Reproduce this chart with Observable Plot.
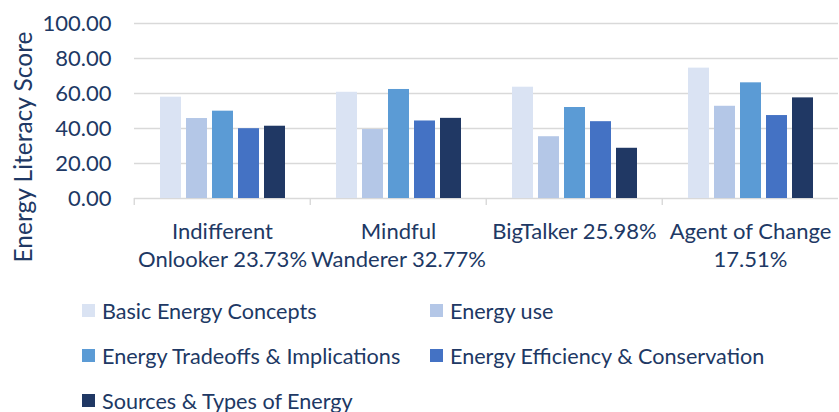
<!DOCTYPE html>
<html>
<head>
<meta charset="utf-8">
<script src="https://cdn.jsdelivr.net/npm/d3@7"></script>
<script src="https://cdn.jsdelivr.net/npm/@observablehq/plot@0.6"></script>
<style>
  html, body { margin: 0; padding: 0; background: #fff; overflow: hidden; }
  #legend { font-family: Lato, sans-serif; font-size: 21.6px; color: #203864; padding-left: 82px; margin-top: 3px; }
  .row { display: flex; height: 45px; align-items: center; }
  .item { display: flex; align-items: center; width: 348px; white-space: nowrap; }
  .sw { width: 13px; height: 13px; margin-right: 7px; flex: none; }
</style>
</head>
<body>
<div id="chart"></div>
<div id="legend"></div>
<script>
const groups = ["Indifferent\nOnlooker 23.73%", "Mindful\nWanderer 32.77%", "BigTalker 25.98%", "Agent of Change\n17.51%"];
const series = ["Basic Energy Concepts", "Energy use", "Energy Tradeoffs & Implications", "Energy Efficiency & Conservation", "Sources & Types of Energy"];
const colors = ["#DAE3F3", "#B4C7E7", "#5B9BD5", "#4472C4", "#203864"];
const basicConcepts = [57.9, 60.7, 63.6, 74.5];
const energyUse = [45.7, 39.4, 35.3, 52.7];
const tradeoffs = [49.9, 62.3, 52.0, 66.1];
const efficiency = [39.9, 44.3, 43.9, 47.4];
const sources = [41.3, 45.8, 28.7, 57.5];
const yTicks = [0, 20, 40, 60, 80, 100];
const yTitle = "Energy Literacy Score";

const seriesValues = [basicConcepts, energyUse, tradeoffs, efficiency, sources];
const data = [];
groups.forEach((g, i) => series.forEach((s, j) => data.push({group: g, series: s, value: seriesValues[j][i]})));

const textColor = "#203864";
const W = 839, ML = 133, MR = 0;
const halfBand = (W - ML - MR) / groups.length / 2;

const chart = Plot.plot({
  width: W,
  height: 285,
  marginLeft: ML,
  marginRight: MR,
  marginTop: 23,
  marginBottom: 87,
  style: {fontFamily: "Lato, sans-serif", color: textColor, background: "#fff", overflow: "visible"},
  fx: {domain: groups, padding: 0, label: null},
  x: {domain: series, axis: null, paddingInner: 0.21, paddingOuter: 0.87},
  y: {domain: [0, 100], label: null},
  color: {domain: series, range: colors},
  marks: [
    Plot.gridY({ticks: yTicks, stroke: "#d9d9d9", strokeOpacity: 1, strokeWidth: 1.4}),
    Plot.barY(data, {fx: "group", x: "series", y: "value", fill: "series"}),
    Plot.axisY({ticks: yTicks, tickFormat: d3.format(".2f"), tickSize: 0, tickPadding: 23, fontSize: 22, fill: textColor, label: null}),
    Plot.axisFx({anchor: "bottom", tickSize: 0, tickPadding: 21, fontSize: 22, lineHeight: 1.25, fill: textColor, label: null}),
    Plot.axisFx({anchor: "bottom", tickSize: 7, tickFormat: () => "", dx: -halfBand, stroke: "#d9d9d9", strokeWidth: 1.4, label: null}),
    Plot.text([yTitle], {fx: () => groups[0], frameAnchor: "left", textAnchor: "middle", rotate: -90, dx: -110, dy: 36, fontSize: 24.5, fill: textColor})
  ]
});
document.getElementById("chart").appendChild(chart);

const legend = document.getElementById("legend");
const rows = [[0, 1], [2, 3], [4]];
rows.forEach(r => {
  const row = document.createElement("div");
  row.className = "row";
  r.forEach(i => {
    const item = document.createElement("div");
    item.className = "item";
    const sw = document.createElement("span");
    sw.className = "sw";
    sw.style.background = colors[i];
    const t = document.createElement("span");
    t.textContent = series[i];
    item.appendChild(sw);
    item.appendChild(t);
    row.appendChild(item);
  });
  legend.appendChild(row);
});
</script>
</body>
</html>
